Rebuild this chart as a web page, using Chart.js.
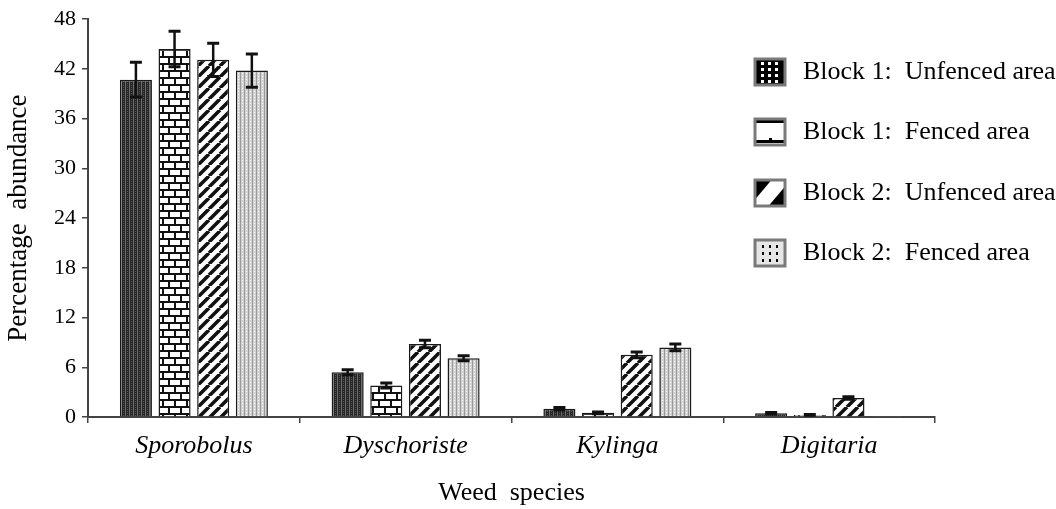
<!DOCTYPE html>
<html>
<head>
<meta charset="utf-8">
<script src="https://cdn.jsdelivr.net/npm/chart.js@4.4.1/dist/chart.umd.min.js"></script>
<style>
  html, body { margin: 0; padding: 0; background: #fff; }
  #wrap { width: 1056px; height: 509px; }
</style>
</head>
<body>
<div id="wrap"><canvas id="chart" width="1056" height="509"></canvas></div>
<script>
// values
const species = ["Sporobolus", "Dyschoriste", "Kylinga", "Digitaria"];
const seriesNames = ["Block 1:  Unfenced area", "Block 1:  Fenced area", "Block 2:  Unfenced area", "Block 2:  Fenced area"];
const b1Unfenced = [40.7, 5.4, 1.0, 0.45];
const b1Fenced = [44.4, 3.8, 0.5, 0.25];
const b2Unfenced = [43.1, 8.8, 7.5, 2.3];
const b2Fenced = [41.8, 7.1, 8.4, 0.05];
const b1UnfencedErr = [2.1, 0.3, 0.15, 0.1];
const b1FencedErr = [2.15, 0.3, 0.1, 0.05];
const b2UnfencedErr = [2.0, 0.45, 0.35, 0.15];
const b2FencedErr = [2.0, 0.3, 0.4, 0];
const yTicks = [0, 6, 12, 18, 24, 30, 36, 42, 48];

const SERIF = '"Liberation Serif", "Times New Roman", serif';

// small tiles for the hatch fills
function makeTile(w, h, draw) {
    const c = document.createElement("canvas");
    c.width = w; c.height = h;
    draw(c.getContext("2d"), w, h);
    return c;
}

const tiles = [
    makeTile(4, 4, (g) => {
        g.fillStyle = "#262626"; g.fillRect(0, 0, 4, 4);
        g.fillStyle = "#6e6e6e"; g.fillRect(1, 0, 1, 4);
        g.fillStyle = "#555"; g.fillRect(3, 1, 1, 1); g.fillRect(3, 3, 1, 1);
    }),
    makeTile(12, 14, (g) => {
        g.fillStyle = "#fff"; g.fillRect(0, 0, 12, 14);
        g.fillStyle = "#111";
        g.fillRect(0, 0, 12, 2); g.fillRect(0, 7, 12, 2);
        g.fillRect(0, 0, 2, 7); g.fillRect(6, 7, 2, 7);
    }),
    makeTile(11, 11, (g, s) => {
        g.fillStyle = "#fff"; g.fillRect(0, 0, s, s);
        g.strokeStyle = "#111"; g.lineWidth = 3.6;
        g.beginPath();
        [-1, 0, 1].forEach((k) => { g.moveTo(k * s, s); g.lineTo(k * s + s, 0); });
        g.stroke();
    }),
    makeTile(4, 3, (g) => {
        g.fillStyle = "#d2d2d2"; g.fillRect(0, 0, 4, 3);
        g.fillStyle = "#9a9a9a"; g.fillRect(0, 0, 1, 3);
        g.fillStyle = "#fff"; g.fillRect(2, 1, 1, 1);
    }),
];

// legend swatches are blown-up versions of the hatches
const swatches = [
    (g, x, y, w, h) => {
        g.fillStyle = "#000"; g.fillRect(x, y, w, h);
        g.fillStyle = "#fff";
        for (let c = 0; c < 3; c++) for (let r = 0; r < 4; r++) g.fillRect(x + 6 + c * 7, y + 3 + r * 6, 3, 3);
    },
    (g, x, y, w, h) => {
        g.fillStyle = "#fff"; g.fillRect(x, y, w, h);
        g.fillStyle = "#000";
        g.fillRect(x, y, w, 4); g.fillRect(x, y + h - 5, w, 3);
        g.fillRect(x + w / 2 - 1, y + h - 7, 3, 4);
    },
    (g, x, y, w, h) => {
        g.fillStyle = "#fff"; g.fillRect(x, y, w, h);
        g.save();
        g.beginPath(); g.rect(x, y, w, h); g.clip();
        g.fillStyle = "#000";
        g.beginPath(); g.moveTo(x, y); g.lineTo(x + w * 0.55, y); g.lineTo(x, y + h * 0.75); g.closePath(); g.fill();
        g.beginPath(); g.moveTo(x + w, y + h); g.lineTo(x + w * 0.45, y + h); g.lineTo(x + w, y + h * 0.25); g.closePath(); g.fill();
        g.restore();
    },
    (g, x, y, w, h) => {
        g.fillStyle = "#e6e6e6"; g.fillRect(x, y, w, h);
        g.fillStyle = "#000";
        for (let c = 0; c < 3; c++) for (let r = 0; r < 3; r++) g.fillRect(x + 7 + c * 7, y + 5 + r * 7, 2, 3);
    },
];

const ctx = document.getElementById("chart").getContext("2d");
const fills = tiles.map((t) => ctx.createPattern(t, "repeat"));

const errorBars = {
    id: "errorBars",
    afterDatasetsDraw(chart) {
        const g = chart.ctx;
        const y = chart.scales.y;
        g.save();
        g.strokeStyle = "#111";
        chart.data.datasets.forEach((ds, i) => {
            const meta = chart.getDatasetMeta(i);
            meta.data.forEach((bar, j) => {
                const e = ds.errors[j];
                if (!e) return;
                const top = y.getPixelForValue(ds.data[j] + e);
                const bot = y.getPixelForValue(ds.data[j] - e);
                g.lineWidth = 2.5;
                g.beginPath();
                g.moveTo(bar.x, top); g.lineTo(bar.x, bot);
                g.stroke();
                g.lineWidth = 3;
                g.beginPath();
                g.moveTo(bar.x - 6, top); g.lineTo(bar.x + 6, top);
                g.moveTo(bar.x - 6, bot); g.lineTo(bar.x + 6, bot);
                g.stroke();
            });
        });
        g.restore();
    },
};

const sideLegend = {
    id: "sideLegend",
    afterDraw(chart) {
        const g = chart.ctx;
        const rows = [72, 132, 193, 253];
        g.save();
        chart.data.datasets.forEach((ds, i) => {
            const cy = rows[i];
            swatches[i](g, 755, cy - 13, 30, 26);
            g.strokeStyle = "#7a7a7a";
            g.lineWidth = 3;
            g.strokeRect(755, cy - 13, 30, 26);
            g.fillStyle = "#000";
            g.font = "26px " + SERIF;
            g.textBaseline = "middle";
            g.fillText(ds.label, 803, cy);
        });
        g.restore();
    },
};

const mk = (label, data, errors, i) => ({
    label, data, errors,
    backgroundColor: fills[i],
    borderColor: "#1a1a1a",
    borderWidth: 1.5,
    barPercentage: 0.83,
    categoryPercentage: 0.73,
});

new Chart(ctx, {
    type: "bar",
    data: {
        labels: species,
        datasets: [
            mk(seriesNames[0], b1Unfenced, b1UnfencedErr, 0),
            mk(seriesNames[1], b1Fenced, b1FencedErr, 1),
            mk(seriesNames[2], b2Unfenced, b2UnfencedErr, 2),
            mk(seriesNames[3], b2Fenced, b2FencedErr, 3),
        ],
    },
    options: {
        responsive: false,
        animation: false,
        devicePixelRatio: 1,
        layout: { padding: { left: 0, right: 121, top: 15, bottom: 0 } },
        plugins: {
            legend: { display: false },
            tooltip: { enabled: false },
        },
        scales: {
            y: {
                min: 0,
                max: 48,
                afterBuildTicks: (s) => { s.ticks = yTicks.map((v) => ({ value: v })); },
                afterFit: (s) => { s.width = 88; },
                grid: { display: true, drawOnChartArea: false, drawTicks: true, tickLength: 6, color: "#444", lineWidth: 1.5 },
                border: { display: true, color: "#444", width: 2 },
                ticks: { color: "#000", padding: 6, font: { family: SERIF, size: 22 } },
                title: {
                    display: true,
                    text: "Percentage  abundance",
                    color: "#000",
                    font: { family: SERIF, size: 27 },
                    padding: { top: 3, bottom: 0 },
                },
            },
            x: {
                afterFit: (s) => { s.height = 92; },
                grid: { display: true, offset: true, drawOnChartArea: false, drawTicks: true, tickLength: 6, color: "#444", lineWidth: 1.5 },
                border: { display: true, color: "#444", width: 2 },
                ticks: { color: "#000", padding: 8, font: { family: SERIF, size: 26, style: "italic" } },
                title: {
                    display: true,
                    text: "Weed  species",
                    color: "#000",
                    font: { family: SERIF, size: 26 },
                    padding: { top: 4, bottom: 0 },
                },
            },
        },
    },
    plugins: [errorBars, sideLegend],
});
</script>
</body>
</html>
